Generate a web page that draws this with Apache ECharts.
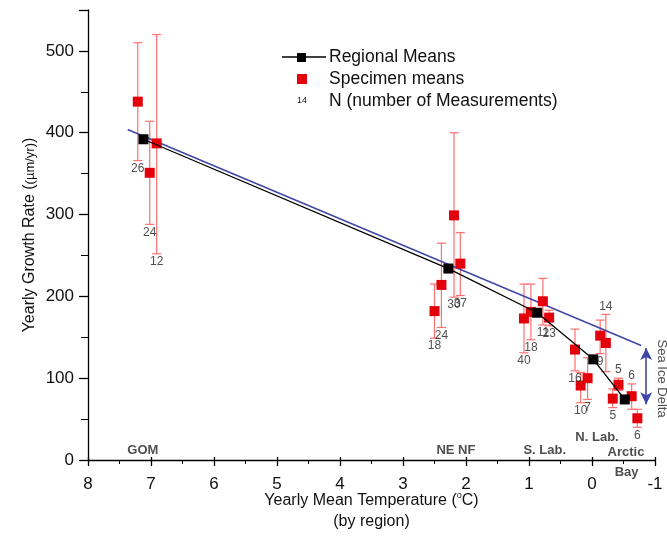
<!DOCTYPE html>
<html><head><meta charset="utf-8">
<script src="https://cdn.jsdelivr.net/npm/echarts@6/dist/echarts.min.js"></script>
<style>html,body{margin:0;padding:0;background:#fff}#c{width:667px;height:536px}</style>
</head><body><div id="c"></div>
<script>
// Regional means
const regionNames = ['GOM', 'NE NF', 'S. Lab.', 'N. Lab.', 'Arctic Bay'];
const regionTemp = [7.12, 2.28, 0.87, -0.02, -0.52];
const regionMean = [392, 234, 180, 123, 74];
// Specimen means with error bars
const specTemp = [7.21, 7.02, 6.91, 2.50, 2.39, 2.19, 2.09, 1.08, 0.97, 0.78, 0.68, 0.27, 0.18, 0.07, -0.13, -0.22, -0.33, -0.42, -0.63, -0.72];
const specMean = [438, 351, 387, 182, 214, 299, 240, 173, 181, 194, 174, 135, 91, 100, 152, 143, 75, 92, 78, 51];
const specHigh = [510, 414, 520, 215, 265, 400, 278, 215, 215, 222, 183, 160, 107, 125, 171, 178, 87, 100, 93, 62];
const specLow  = [366, 288, 252, 149, 162, 199, 201, 131, 147, 165, 164, 109, 70, 74, 130, 108, 64, 85, 62, 40];
const specN    = [26, 24, 12, 18, 24, 30, 37, 40, 18, 11, 23, 16, 10, 7, 9, 14, 5, 5, 6, 6];
const specNSide = ['b','b','b','b','b','b','b','b','b','b','b','b','b','b','b','a','b','a','a','b'];
// Linear fit line
const fitTemp = [7.37, -0.78];
const fitRate = [404, 140];
// Sea ice delta arrow
const deltaTemp = -0.86;
const deltaRange = [137, 68];
// Region annotation labels [temp, rate]
const regionLabelText = ['GOM', 'NE NF', 'S. Lab.', 'N. Lab.', 'Arctic', 'Bay'];
const regionLabelTemp = [7.13, 2.16, 0.75, -0.08, -0.54, -0.55];
const regionLabelRate = [12, 12, 12, 27, 9, -15];

const FONT = 'Arial, "Liberation Sans", sans-serif';
const chart = echarts.init(document.getElementById('c'), null, {renderer: 'canvas'});

const errData = specTemp.map((t, i) => [t, specLow[i], specHigh[i]]);
const nData = specTemp.map((t, i) => ({
  value: [t, specNSide[i] === 'a' ? specHigh[i] : specLow[i]],
  label: {position: specNSide[i] === 'a' ? 'top' : 'bottom', formatter: String(specN[i])}
}));

const axisCommonX = {
  type: 'value', inverse: true, min: -1, max: 8, interval: 1
};

chart.setOption({
  animation: false,
  backgroundColor: '#fff',
  grid: {left: 88, right: 12, top: 10, bottom: 76, containLabel: false, outerBoundsMode: 'none'},
  xAxis: [
    Object.assign({}, axisCommonX, {
      position: 'bottom',
      axisLine: {show: true, onZero: false, lineStyle: {color: '#000', width: 1.3}},
      axisTick: {show: true, inside: false, length: 6, lineStyle: {color: '#000', width: 1.3}},
      minorTick: {show: true, splitNumber: 2, length: 4, lineStyle: {color: '#000', width: 1}},
      axisLabel: {color: '#111', fontSize: 17, fontFamily: FONT, margin: 16},
      splitLine: {show: false},
      name: 'Yearly Mean Temperature ({sup|o}C)\n(by region)',
      nameLocation: 'middle', nameGap: 30, nameMoveOverlap: false,
      nameTextStyle: {color: '#111', fontSize: 16, fontFamily: FONT, lineHeight: 21,
        rich: {sup: {fontSize: 9, fontFamily: FONT, color: '#111', padding: [0, 0, 9, 0]}}}
    }),
    Object.assign({}, axisCommonX, {
      position: 'bottom',
      axisLine: {show: false, onZero: false},
      axisTick: {show: true, inside: true, length: 3, lineStyle: {color: '#000', width: 1.3}},
      axisLabel: {show: false},
      splitLine: {show: false}
    })
  ],
  yAxis: {
    type: 'value', min: 0, max: 550, interval: 100,
    axisLine: {show: true, onZero: false, lineStyle: {color: '#000', width: 1.3}},
    axisTick: {show: true, inside: false, length: 9, lineStyle: {color: '#000', width: 1.3}},
    minorTick: {show: true, splitNumber: 2, length: 7, lineStyle: {color: '#000', width: 1}},
    axisLabel: {color: '#111', fontSize: 17, fontFamily: FONT, margin: 14,
      formatter: v => (v % 100 === 0 ? String(v) : '')},
    splitLine: {show: false},
    name: 'Yearly Growth Rate ({s|(µm/yr)})',
    nameLocation: 'middle', nameGap: 50, nameRotate: 90, nameMoveOverlap: false,
    nameTextStyle: {color: '#111', fontSize: 16, fontFamily: FONT,
      rich: {s: {fontSize: 13, fontFamily: FONT, color: '#111'}}}
  },
  series: [
    {
      type: 'custom', name: 'err', xAxisIndex: 0, z: 2,
      data: errData,
      renderItem: function (params, api) {
        const x = api.value(0);
        const lo = api.coord([x, api.value(1)]);
        const hi = api.coord([x, api.value(2)]);
        const w = 4.5;
        const st = {stroke: '#ff6f6f', lineWidth: 1.2};
        return {type: 'group', children: [
          {type: 'line', shape: {x1: hi[0], y1: hi[1], x2: lo[0], y2: lo[1]}, style: st},
          {type: 'line', shape: {x1: hi[0] - w, y1: hi[1], x2: hi[0] + w, y2: hi[1]}, style: st},
          {type: 'line', shape: {x1: lo[0] - w, y1: lo[1], x2: lo[0] + w, y2: lo[1]}, style: st}
        ]};
      }
    },
    {
      type: 'line', name: 'fit', xAxisIndex: 0, z: 3,
      data: fitTemp.map((t, i) => [t, fitRate[i]]),
      showSymbol: false, symbol: 'none',
      lineStyle: {color: '#3f46a6', width: 1.5}
    },
    {
      type: 'line', name: 'Regional Means', xAxisIndex: 0, z: 5,
      data: regionTemp.map((t, i) => [t, regionMean[i]]),
      symbol: 'rect', symbolSize: 10,
      itemStyle: {color: '#000', opacity: 1},
      lineStyle: {color: '#000', width: 1.3}
    },
    {
      type: 'scatter', name: 'Specimen means', xAxisIndex: 0, z: 4,
      data: specTemp.map((t, i) => [t, specMean[i]]),
      symbol: 'rect', symbolSize: 10,
      itemStyle: {color: '#e3000b', opacity: 1}
    },
    {
      type: 'scatter', name: 'N', xAxisIndex: 0, z: 6,
      data: nData, symbolSize: 0, clip: false,
      label: {show: true, color: '#222', fontSize: 12, fontFamily: FONT, distance: 2}
    },
    {
      type: 'scatter', name: 'regions', xAxisIndex: 0, z: 6,
      data: regionLabelTemp.map((t, i) => ({value: [t, regionLabelRate[i]], name: regionLabelText[i]})),
      symbolSize: 0, clip: false,
      label: {show: true, position: 'inside', formatter: p => p.name, color: '#222',
        fontSize: 13, fontWeight: 'bold', fontFamily: FONT}
    },
    {
      type: 'scatter', name: 'delta', xAxisIndex: 0, z: 6,
      data: [{value: [deltaTemp - 0.25, (deltaRange[0] + deltaRange[1]) / 2 - 3], name: 'Sea Ice Delta'}],
      symbolSize: 0, clip: false,
      label: {show: true, position: 'inside', rotate: -90, formatter: p => p.name,
        color: '#222', fontSize: 13, fontFamily: FONT},
      markLine: {
        silent: true, symbol: ['arrow', 'arrow'], symbolSize: [9, 12],
        lineStyle: {color: '#3f46a6', width: 1.6, type: 'solid'},
        label: {show: false},
        data: [[{coord: [deltaTemp, deltaRange[0]]}, {coord: [deltaTemp, deltaRange[1]]}]]
      }
    }
  ],
  graphic: [
    {type: 'line', shape: {x1: 282, y1: 57, x2: 326, y2: 57}, style: {stroke: '#000', lineWidth: 1.3}},
    {type: 'rect', shape: {x: 297, y: 53, width: 9, height: 9}, style: {fill: '#000'}},
    {type: 'text', x: 329, y: 57, style: {text: 'Regional Means', fill: '#111', font: '17.5px ' + FONT, verticalAlign: 'middle'}},
    {type: 'rect', shape: {x: 297, y: 74, width: 10, height: 10}, style: {fill: '#e3000b'}},
    {type: 'text', x: 329, y: 79, style: {text: 'Specimen means', fill: '#111', font: '17.5px ' + FONT, verticalAlign: 'middle'}},
    {type: 'text', x: 302, y: 101, style: {text: '14', fill: '#222', font: '9px ' + FONT, align: 'center', verticalAlign: 'middle'}},
    {type: 'text', x: 329, y: 101, style: {text: 'N (number of Measurements)', fill: '#111', font: '17.5px ' + FONT, verticalAlign: 'middle'}}
  ]
});
</script>
</body></html>
